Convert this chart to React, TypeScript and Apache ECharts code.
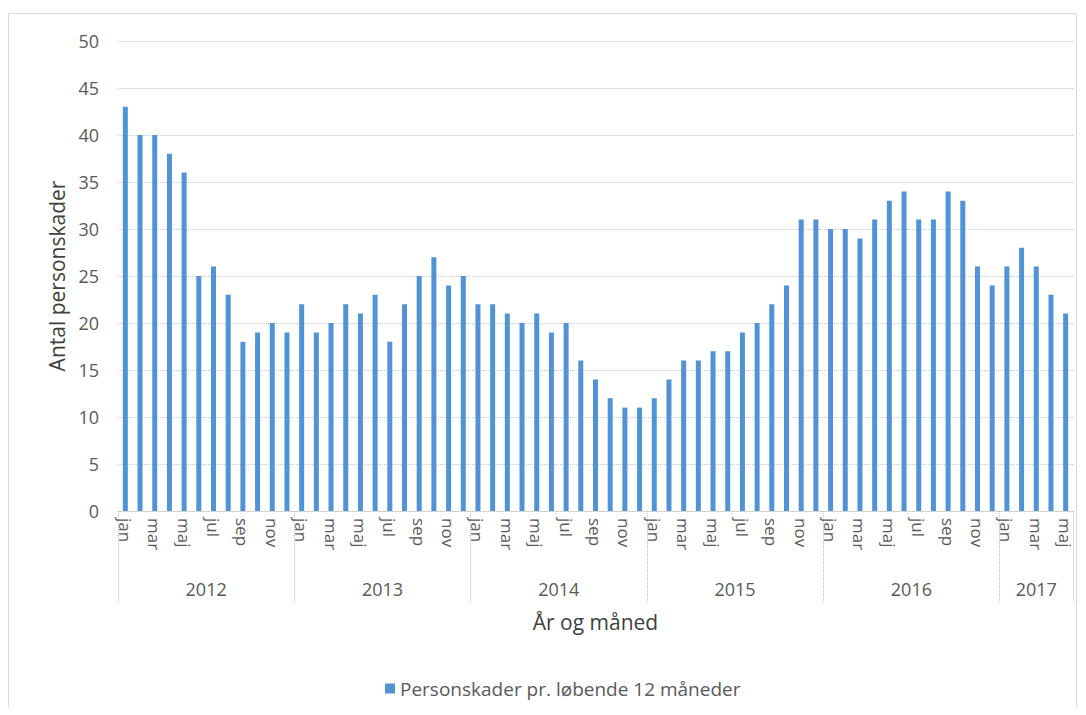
import React, { useEffect, useRef } from "react";
import * as echarts from "echarts";

const monthNames = ["jan", "feb", "mar", "apr", "maj", "jun", "jul", "aug", "sep", "okt", "nov", "dec"];
const years = ["2012", "2013", "2014", "2015", "2016", "2017"];
const v2012 = [43, 40, 40, 38, 36, 25, 26, 23, 18, 19, 20, 19];
const v2013 = [22, 19, 20, 22, 21, 23, 18, 22, 25, 27, 24, 25];
const v2014 = [22, 22, 21, 20, 21, 19, 20, 16, 14, 12, 11, 11];
const v2015 = [12, 14, 16, 16, 17, 17, 19, 20, 22, 24, 31, 31];
const v2016 = [30, 30, 29, 31, 33, 34, 31, 31, 34, 33, 26, 24];
const v2017 = [26, 28, 26, 23, 21];
const yearValues = [v2012, v2013, v2014, v2015, v2016, v2017];
const seriesName = "Personskader pr. løbende 12 måneder";

const FONT = "'Open Sans', 'Noto Sans', sans-serif";
const GRAY = "#595959";

export default function App() {
  const ref = useRef<HTMLDivElement>(null);
  useEffect(() => {
    if (!ref.current) return;
    const chart = echarts.init(ref.current, null, { renderer: "svg" });

    const monthCats: string[] = [];
    const values: number[] = [];
    yearValues.forEach((arr) => {
      arr.forEach((v, i) => {
        monthCats.push(monthNames[i]);
        values.push(v);
      });
    });
    const n = values.length;
    // half-month slots for year axis (n*2 + 1 points, boundaryGap false)
    const slots: string[] = new Array(n * 2 + 1).fill("");
    const boundaries: number[] = [0];
    let start = 0;
    yearValues.forEach((arr, yi) => {
      const center = start * 2 + arr.length;
      slots[center] = years[yi];
      start += arr.length;
      boundaries.push(start * 2);
    });

    chart.setOption({
      animation: false,
      textStyle: { fontFamily: FONT },
      graphic: [
        {
          type: "rect",
          shape: { x: 0.5, y: 5.5, width: 1068, height: 700 },
          style: { fill: "none", stroke: "#d9d9d9", lineWidth: 1 },
          silent: true,
        },
      ],
      grid: { left: 110, right: 5, top: 33, bottom: 196, containLabel: false },
      legend: {
        top: 666,
        left: 372,
        itemWidth: 10,
        itemHeight: 10,
        icon: "rect",
        itemGap: 6,
        textStyle: { color: GRAY, fontSize: 19, fontFamily: FONT },
        data: [seriesName],
      },
      xAxis: [
        {
          type: "category",
          data: monthCats,
          position: "bottom",
          axisLine: { show: true, lineStyle: { color: "#c8c8c8", type: "dotted" } },
          axisTick: { show: false },
          axisLabel: {
            interval: 1,
            rotate: -90,
            color: GRAY,
            fontSize: 17,
            margin: 7,
            fontFamily: FONT,
          },
          name: "År og måned",
          nameLocation: "middle",
          nameGap: 100,
          nameTextStyle: { color: "#404040", fontSize: 21, fontFamily: FONT },
        },
        {
          type: "category",
          data: slots,
          position: "bottom",
          boundaryGap: false,
          axisLine: { show: false },
          axisTick: {
            show: true,
            interval: (idx: number) => boundaries.includes(idx),
            length: 91,
            lineStyle: { color: "#bfbfbf", type: "dotted" },
          },
          axisLabel: { interval: 0, color: GRAY, fontSize: 18, margin: 69, fontFamily: FONT },
          splitLine: { show: false },
        },
      ],
      yAxis: {
        type: "value",
        min: 0,
        max: 50,
        interval: 5,
        axisLine: { show: false },
        axisTick: { show: false },
        axisLabel: { color: GRAY, fontSize: 18, margin: 19, fontFamily: FONT },
        splitLine: { lineStyle: { color: "#c8c8c8", type: "dotted" } },
        name: "Antal personskader",
        nameLocation: "middle",
        nameGap: 45,
        nameTextStyle: { color: "#404040", fontSize: 21, fontFamily: FONT },
      },
      series: [
        {
          name: seriesName,
          type: "bar",
          xAxisIndex: 0,
          data: values,
          barWidth: 5,
          itemStyle: { color: "#5193D6" },
        },
      ],
    });
    return () => chart.dispose();
  }, []);
  return <div ref={ref} style={{ width: 1070, height: 699 }} />;
}
